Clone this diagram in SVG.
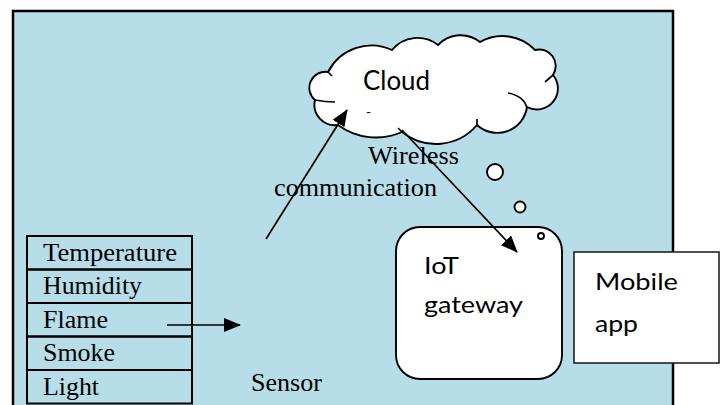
<svg xmlns="http://www.w3.org/2000/svg" width="726" height="405" viewBox="0 0 726 405">
<defs>
<style>
.serif{font-family:"Liberation Serif","Times New Roman",serif;font-size:26px;fill:#000}
.sans{font-family:Lato,"Liberation Sans",sans-serif;fill:#000}
.shape{fill:#fff;stroke:#000;stroke-width:1.9}
.cell{fill:none;stroke:#000;stroke-width:2}
.conn{stroke:#000;stroke-width:1.7;fill:none}
</style>
<marker id="ahb" markerWidth="17" markerHeight="14" refX="16" refY="7" orient="auto" markerUnits="userSpaceOnUse" viewBox="0 0 17 14">
<path d="M0,0 L17,7 L0,14 Z" fill="#000"/>
</marker>
</defs>
<rect x="13" y="11" width="660" height="400" fill="#b6dde8" stroke="#000" stroke-width="2.5"/>

<g id="sensor-table">
<rect class="cell" x="27" y="236" width="165" height="33.5"/>
<rect class="cell" x="27" y="269.5" width="165" height="33.5"/>
<rect class="cell" x="27" y="303" width="165" height="33.5"/>
<rect class="cell" x="27" y="336.5" width="165" height="33.5"/>
<rect class="cell" x="27" y="370" width="165" height="33.5"/>
<text class="serif" x="43" y="261" textLength="134" lengthAdjust="spacingAndGlyphs">Temperature</text>
<text class="serif" x="43" y="294" textLength="99" lengthAdjust="spacingAndGlyphs">Humidity</text>
<text class="serif" x="43" y="328" textLength="65" lengthAdjust="spacingAndGlyphs">Flame</text>
<text class="serif" x="43" y="361" textLength="72" lengthAdjust="spacingAndGlyphs">Smoke</text>
<text class="serif" x="43" y="395" textLength="56" lengthAdjust="spacingAndGlyphs">Light</text>
</g>

<g id="sensor-label">
<text class="serif" x="251" y="391" textLength="71" lengthAdjust="spacingAndGlyphs">Sensor</text>
</g>

<g id="cloud">
<path class="shape" d="M315,100 A16,16 0 0 1 328,72 A49,49 0 0 1 392,50 A33,33 0 0 1 438,45 A31,31 0 0 1 480,42 A45,45 0 0 1 535,50 A16.5,16.5 0 0 1 553,75 A21,21 0 0 1 527,107 A30,30 0 0 1 477,125 A54,54 0 0 1 402,132 A64,64 0 0 1 338,125 A20.5,20.5 0 0 1 315,100 Z"/>
<path class="conn" d="M315,100 Q325,102 335,102 M328,72 L332,76 M553,75 L545,82 M508,93 Q524,96 527,108 M477,125 L477,119 M402,132 L398,128"/>
<text class="sans" x="363" y="90" font-size="26" textLength="67" lengthAdjust="spacingAndGlyphs">Cloud</text>
<text class="sans" x="366" y="117" font-size="14">-</text>
</g>

<g id="bubbles">
<circle class="shape" cx="495" cy="172" r="8" stroke-width="1.6"/>
<circle class="shape" cx="520" cy="207" r="5.5" stroke-width="1.6"/>
</g>

<g id="iot-gateway">
<rect class="shape" x="396" y="227" width="166" height="152" rx="24" ry="24"/>
<circle class="shape" cx="541" cy="236" r="3" stroke-width="1.4"/>
<text class="sans" x="424" y="274" font-size="24" textLength="35" lengthAdjust="spacingAndGlyphs">IoT</text>
<text class="sans" x="424" y="313" font-size="24" textLength="99" lengthAdjust="spacingAndGlyphs">gateway</text>
</g>

<g id="mobile-app">
<rect x="574" y="252" width="145" height="111" fill="#fff" stroke="#222" stroke-width="1.6"/>
<text class="sans" x="595" y="290" font-size="24" textLength="83" lengthAdjust="spacingAndGlyphs">Mobile</text>
<text class="sans" x="595" y="332" font-size="24" textLength="43" lengthAdjust="spacingAndGlyphs">app</text>
</g>

<g id="wireless-label">
<text class="serif" x="368" y="164" textLength="91" lengthAdjust="spacingAndGlyphs">Wireless</text>
<text class="serif" x="274" y="196" textLength="163" lengthAdjust="spacingAndGlyphs">communication</text>
</g>

<g id="connectors">
<line class="conn" x1="266" y1="239" x2="347" y2="110" marker-end="url(#ahb)"/>
<line class="conn" x1="402" y1="130" x2="517" y2="252" marker-end="url(#ahb)"/>
<line class="conn" x1="167" y1="325" x2="240" y2="325" marker-end="url(#ahb)"/>
</g>
</svg>
